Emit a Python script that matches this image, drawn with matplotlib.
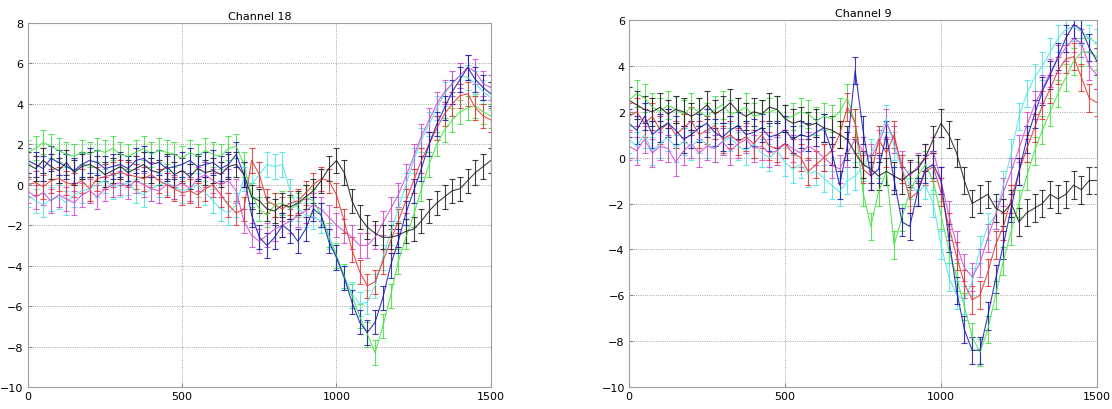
import matplotlib
matplotlib.use("Agg")
import matplotlib.pyplot as plt

# sample times (ms), one every 25
t = list(range(0, 1501, 25))

# Channel 18 - mean traces
ch18_green = [1.6, 1.8, 2.1, 1.9, 1.7, 1.5, 1.4, 1.6, 1.5, 1.7, 1.6, 1.8, 1.5, 1.4, 1.6, 1.8, 1.5, 1.7, 1.6, 1.5,
              1.3, 1.6, 1.4, 1.7, 1.5, 1.4, 1.8, 1.9, 1.0, -0.5, -1.2, -1.5, -1.0, -0.9, -1.2, -1.0, -0.6, -0.8, -1.5, -2.5,
              -3.5, -4.5, -5.5, -6.5, -7.4, -8.3, -7.0, -5.5, -3.8, -2.6, -1.5, -0.2, 1.0, 2.0, 2.7, 3.2, 3.6, 3.8, 3.9, 3.6,
              3.4]
ch18_cyan = [-0.5, -0.8, -1.0, -0.7, -0.6, -0.9, -0.5, -0.3, -0.2, 0.0, 0.2, -0.1, 0.0, 0.1, -0.3, -0.5, -0.2, 0.0, 0.1, -0.1,
             -0.3, -0.2, 0.0, -0.4, -0.8, -1.2, -1.4, -1.0, 0.3, 0.0, 0.5, 1.0, 0.9, 1.0, -0.3, -1.2, -1.5, -1.6, -1.8, -2.6,
             -3.6, -4.6, -5.4, -5.9, -5.8, -5.0, -3.6, -2.4, -1.2, 0.0, 1.2, 2.2, 3.0, 3.8, 4.5, 5.0, 5.4, 5.3, 5.0, 4.6,
             4.3]
ch18_red = [0.0, 0.1, -0.1, 0.2, 0.3, 0.1, 0.0, 0.2, -0.2, 0.3, 0.4, 0.5, 0.6, 0.5, 0.4, 0.3, 0.5, 0.2, 0.0, -0.2,
            -0.4, -0.3, -0.5, -0.2, 0.0, -0.5, -1.0, -1.4, -1.2, 1.2, 0.5, -0.8, -1.0, -1.2, -0.9, -0.8, -0.4, 0.0, 0.3, 0.2,
            -0.5, -1.8, -3.2, -4.3, -5.0, -4.8, -3.8, -2.8, -1.8, -0.8, 0.2, 1.2, 2.0, 2.8, 3.5, 4.0, 4.4, 4.5, 3.8, 3.4,
            3.2]
ch18_magenta = [-0.3, -0.6, -0.4, -0.8, -0.5, -0.7, -0.9, -0.5, -0.3, -0.6, -0.2, 0.0, 0.1, -0.1, 0.2, 0.0, -0.2, -0.3, 0.0, -0.1,
                0.1, -0.2, 0.3, 0.5, 0.2, 0.0, 0.2, -0.3, -1.8, -2.5, -2.8, -2.5, -2.2, -2.0, -1.8, -1.5, -1.3, -1.0, -1.2, -1.6,
                -2.0, -2.3, -2.6, -3.0, -3.0, -2.6, -1.9, -1.2, -0.5, 0.4, 1.4, 2.4, 3.2, 4.0, 4.6, 5.0, 5.4, 5.8, 5.6, 5.0,
                4.8]
ch18_black = [1.0, 0.8, 1.2, 0.9, 0.7, 1.1, 0.6, 0.9, 1.0, 0.8, 0.5, 0.7, 0.9, 0.6, 0.8, 1.0, 0.7, 0.6, 0.9, 0.5,
              0.7, 0.4, 0.8, 0.6, 0.7, 0.5, 0.9, 1.0, 0.5, -0.6, -0.8, -1.2, -1.3, -1.0, -1.1, -0.9, -0.6, -0.3, 0.2, 0.8,
              1.2, 0.6, -0.8, -1.6, -2.1, -2.4, -2.6, -2.6, -2.5, -2.3, -2.2, -1.8, -1.3, -0.9, -0.6, -0.3, -0.2, 0.2, 0.6, 0.9,
              1.2]
ch18_blue = [1.2, 1.0, 0.8, 1.3, 1.1, 0.9, 0.7, 1.0, 1.2, 1.1, 0.8, 0.9, 1.0, 0.8, 1.2, 1.3, 1.0, 1.1, 0.8, 0.9,
             1.0, 1.2, 0.9, 1.0, 1.1, 0.8, 1.0, 1.5, 0.5, -1.5, -2.6, -3.0, -2.6, -2.0, -2.3, -2.8, -2.2, -1.2, -1.5, -2.8,
             -3.6, -4.6, -5.8, -6.8, -7.3, -6.8, -5.6, -4.0, -2.8, -1.4, -0.3, 0.8, 2.0, 3.0, 3.8, 4.6, 5.2, 5.8, 5.2, 4.8,
             4.5]

# Channel 9
ch9_green = [2.5, 2.8, 2.6, 2.2, 2.0, 2.3, 2.1, 1.9, 2.2, 2.0, 1.8, 2.1, 2.3, 1.9, 2.0, 2.2, 1.8, 1.9, 2.0, 2.1,
             1.7, 1.8, 2.0, 1.9, 1.6, 1.8, 1.7, 2.0, 2.6, 1.5, -1.5, -3.0, -1.5, -0.6, -3.8, -2.6, -1.5, -0.8, -0.3, -1.0,
             -2.5, -4.0, -5.2, -6.5, -7.8, -8.5, -7.5, -6.0, -4.5, -3.2, -2.0, -0.8, 0.3, 1.2, 2.0, 2.8, 3.5, 4.2, 4.6, 4.6,
             4.4]
ch9_cyan = [0.8, 0.5, 1.0, 0.3, 0.6, 0.9, 0.4, 0.7, 0.5, 0.8, 0.6, 0.4, 0.7, 0.9, 0.5, 0.3, 0.6, 0.2, 0.0, 0.3,
            -0.2, -0.5, -0.3, -0.7, -0.6, -0.9, -1.2, -1.5, -1.0, -0.8, -0.4, 0.2, 0.8, 1.7, 0.5, -0.5, -1.2, -1.5, -1.2, -2.0,
            -3.8, -5.2, -6.0, -6.2, -5.4, -4.0, -3.0, -2.5, -1.2, 0.2, 1.8, 2.8, 3.5, 4.0, 4.6, 5.2, 5.6, 5.7, 5.5, 5.2,
            5.0]
ch9_red = [1.8, 2.0, 1.5, 1.8, 1.2, 1.5, 1.0, 1.3, 1.6, 1.0, 1.2, 1.4, 0.8, 1.0, 0.7, 0.9, 0.6, 1.0, 0.5, 0.4,
           0.6, 0.2, 0.0, -0.6, -0.3, 0.0, 0.3, 1.0, 2.2, 1.5, -0.5, -0.8, 0.8, 0.2, 1.0, -0.5, -1.8, -1.5, -0.6, -0.4,
           -1.5, -3.0, -4.3, -5.5, -6.2, -6.0, -5.0, -3.8, -3.0, -1.8, -0.6, 0.4, 1.3, 2.3, 3.0, 3.8, 4.3, 4.4, 3.5, 2.6,
           2.4]
ch9_magenta = [0.5, 0.3, 0.8, 0.2, 0.5, 0.4, -0.2, 0.3, 0.6, 0.2, 0.5, 0.4, 0.7, 0.3, 0.6, 0.8, 0.4, 0.5, 0.2, 0.3,
               0.6, 0.4, 0.2, 0.5, 0.3, 0.0, -0.3, -0.5, 0.2, 0.8, 0.3, 0.0, 0.6, 1.5, 0.8, -0.3, -0.8, -0.4, 0.0, 0.3,
               -1.0, -2.5, -3.8, -4.8, -5.2, -4.6, -3.5, -2.5, -1.5, -0.6, 0.4, 1.4, 2.3, 3.0, 3.7, 4.3, 4.8, 5.2, 5.0, 4.0,
               3.6]
ch9_black = [2.5, 2.3, 2.1, 2.0, 2.2, 1.9, 2.1, 2.0, 1.8, 2.0, 2.3, 1.9, 2.1, 2.4, 2.0, 1.8, 2.0, 1.9, 2.2, 2.1,
             1.7, 1.5, 1.6, 1.4, 1.5, 1.3, 1.2, 1.0, 0.8, 0.2, -0.3, -0.5, -0.8, -0.6, -0.8, -1.0, -0.7, -0.5, 0.0, 0.8,
             1.5, 1.0, 0.2, -1.0, -2.0, -1.8, -1.6, -2.2, -2.4, -2.0, -2.8, -2.4, -2.2, -2.0, -1.6, -1.8, -1.6, -1.2, -1.4, -1.0,
             -1.0]
ch9_blue = [1.5, 1.2, 1.8, 1.0, 1.3, 1.5, 1.2, 0.8, 1.0, 1.3, 1.5, 1.1, 0.9, 1.2, 1.4, 1.0, 1.1, 1.3, 0.9, 1.0,
            1.2, 0.8, 1.0, 0.9, 1.1, 1.3, 0.3, -1.2, 0.5, 3.8, 1.2, -0.8, -0.5, 1.0, -1.0, -2.8, -3.0, -1.5, -0.5, -0.3,
            -1.0, -3.5, -5.8, -7.5, -8.4, -8.4, -6.9, -5.3, -3.8, -2.2, -0.6, 0.8, 1.9, 2.9, 3.6, 4.4, 5.2, 5.8, 5.6, 4.8,
            4.2]

# half-width of the error bars
err18 = 0.6
err9 = 0.6

colors = {"green": "#44e044", "cyan": "#50e4e4", "red": "#e03434",
          "magenta": "#cc4ccc", "black": "#1e1e1e", "blue": "#1a1aaa"}

panels = [
    ("Channel 18", {"green": ch18_green, "cyan": ch18_cyan, "magenta": ch18_magenta, "red": ch18_red,
                    "black": ch18_black, "blue": ch18_blue}, err18, (-10, 8), [0.025, 0.0537, 0.4164, 0.888]),
    ("Channel 9", {"green": ch9_green, "cyan": ch9_cyan, "magenta": ch9_magenta, "red": ch9_red,
                   "black": ch9_black, "blue": ch9_blue}, err9, (-10, 6), [0.5656, 0.0537, 0.4209, 0.895]),
]

fig = plt.figure(figsize=(11.12, 4.10), dpi=100)

for title, series, err, ylim, pos in panels:
    ax = fig.add_axes(pos)
    for name, vals in series.items():
        ax.errorbar(t, vals, yerr=err, color=colors[name], lw=0.8, elinewidth=0.8,
                    capsize=2.5, capthick=0.8, alpha=0.85)
    ax.set_xlim(0, 1500)
    ax.set_ylim(*ylim)
    ax.set_xticks([0, 500, 1000, 1500])
    ax.set_yticks(range(ylim[0], ylim[1] + 1, 2))
    ax.grid(True, linestyle=":", color="#8a8a8a", linewidth=0.6)
    ax.set_axisbelow(True)
    ax.tick_params(direction="in", length=3, labelsize=8, color="#888888", pad=3)
    for sp in ax.spines.values():
        sp.set_color("#a0a0a0")
        sp.set_linewidth(0.8)
    ax.set_title(title, fontsize=8, pad=3)

plt.savefig("out.png", dpi=100)
